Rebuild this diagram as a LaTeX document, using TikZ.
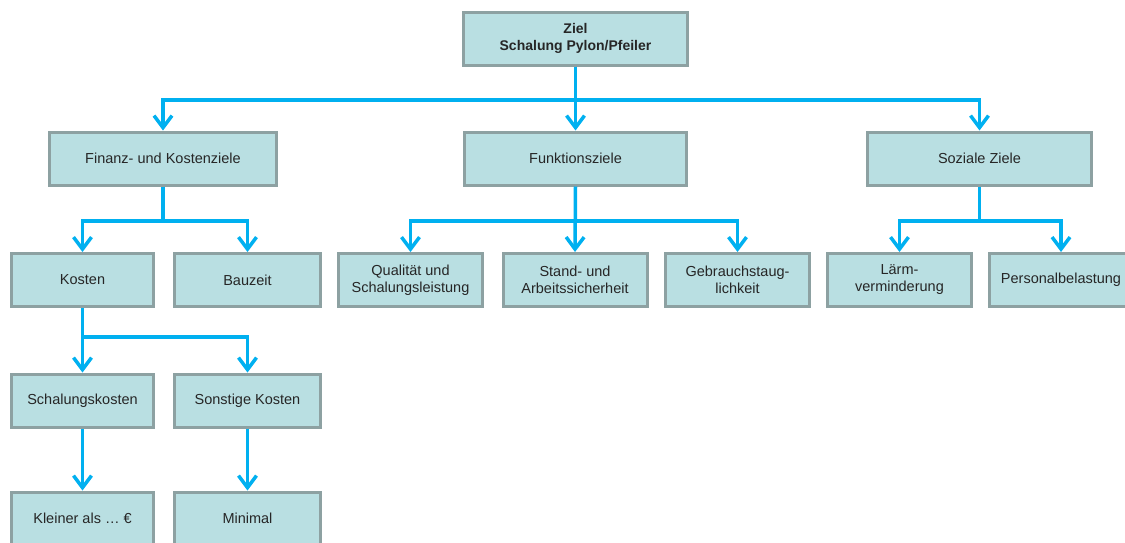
\documentclass[tikz,border=0pt]{standalone}
\usepackage{fontspec}
\setmainfont{Liberation Sans}
\usetikzlibrary{arrows.meta}
\definecolor{boxfill}{HTML}{B9DFE2}
\definecolor{boxline}{HTML}{8DA1A2}
\definecolor{linkblue}{HTML}{00B0F0}
\tikzset{
  goal/.style={draw=boxline, line width=3pt, fill=boxfill, inner sep=0pt,
    minimum width=144pt, minimum height=53pt, align=center,
    text=black!85, font=\fontsize{14.5}{17}\selectfont},
  link/.style={draw=linkblue, line width=3.5pt,
    -{Straight Barb[length=12pt,width=18pt]}},
}
\begin{document}
\begin{tikzpicture}[x=1pt,y=-1pt]
\useasboundingbox (0,0) rectangle (1125,542);
\clip (0,0) rectangle (1125,542);
% top
\node[goal, minimum width=224pt, font=\fontsize{14}{17}\selectfont\bfseries] (ziel) at (575.5,38.5) {Ziel\\Schalung Pylon/Pfeiler};
% second row
\node[goal, minimum width=227pt] (finanz) at (163,158.5) {Finanz- und Kostenziele};
\node[goal, minimum width=222pt] (funktion) at (575.5,158.5) {Funktionsziele};
\node[goal, minimum width=224pt] (sozial) at (979.5,158.5) {Soziale Ziele};
% third row
\node[goal, minimum width=142pt] (kosten) at (82.5,280) {Kosten};
\node[goal, minimum width=146pt] (bauzeit) at (247.5,280) {Bauzeit};
\node[goal] (quali) at (410.5,280) {Qualität und\\Schalungsleistung};
\node[goal] (stand) at (575,280) {Stand- und\\Arbeitssicherheit};
\node[goal] (gebrauch) at (737.5,280) {Gebrauchstaug-\\lichkeit};
\node[goal] (laerm) at (899.5,280) {Lärm-\\verminderung};
\node[goal] (personal) at (1061,280) {Personalbelastung};
% fourth row
\node[goal, minimum width=142pt] (schalk) at (82.5,400.5) {Schalungskosten};
\node[goal, minimum width=146pt] (sonst) at (247.5,400.5) {Sonstige Kosten};
% fifth row
\node[goal, minimum width=142pt] (kleiner) at (82.5,518.5) {Kleiner als … €};
\node[goal, minimum width=146pt] (minimal) at (247.5,518.5) {Minimal};
% bus lines
\coordinate (bus1) at (0,100);
\coordinate (bus2) at (0,221);
\coordinate (bus3) at (0,337);
\draw[link] (ziel.south) -- (ziel.south |- bus1) -| (finanz.north);
\draw[link] (ziel.south) -- (funktion.north);
\draw[link] (ziel.south) -- (ziel.south |- bus1) -| (sozial.north);
\draw[link] (finanz.south) -- (finanz.south |- bus2) -| (kosten.north);
\draw[link] (finanz.south) -- (finanz.south |- bus2) -| (bauzeit.north);
\draw[link] (funktion.south) -- (funktion.south |- bus2) -| (quali.north);
\draw[link] (funktion.south) -- (stand.north);
\draw[link] (funktion.south) -- (funktion.south |- bus2) -| (gebrauch.north);
\draw[link] (sozial.south) -- (sozial.south |- bus2) -| (laerm.north);
\draw[link] (sozial.south) -- (sozial.south |- bus2) -| (personal.north);
\draw[link] (kosten.south) -- (schalk.north);
\draw[link] (kosten.south) -- (kosten.south |- bus3) -| (sonst.north);
\draw[link] (schalk.south) -- (kleiner.north);
\draw[link] (sonst.south) -- (minimal.north);
\end{tikzpicture}
\end{document}
